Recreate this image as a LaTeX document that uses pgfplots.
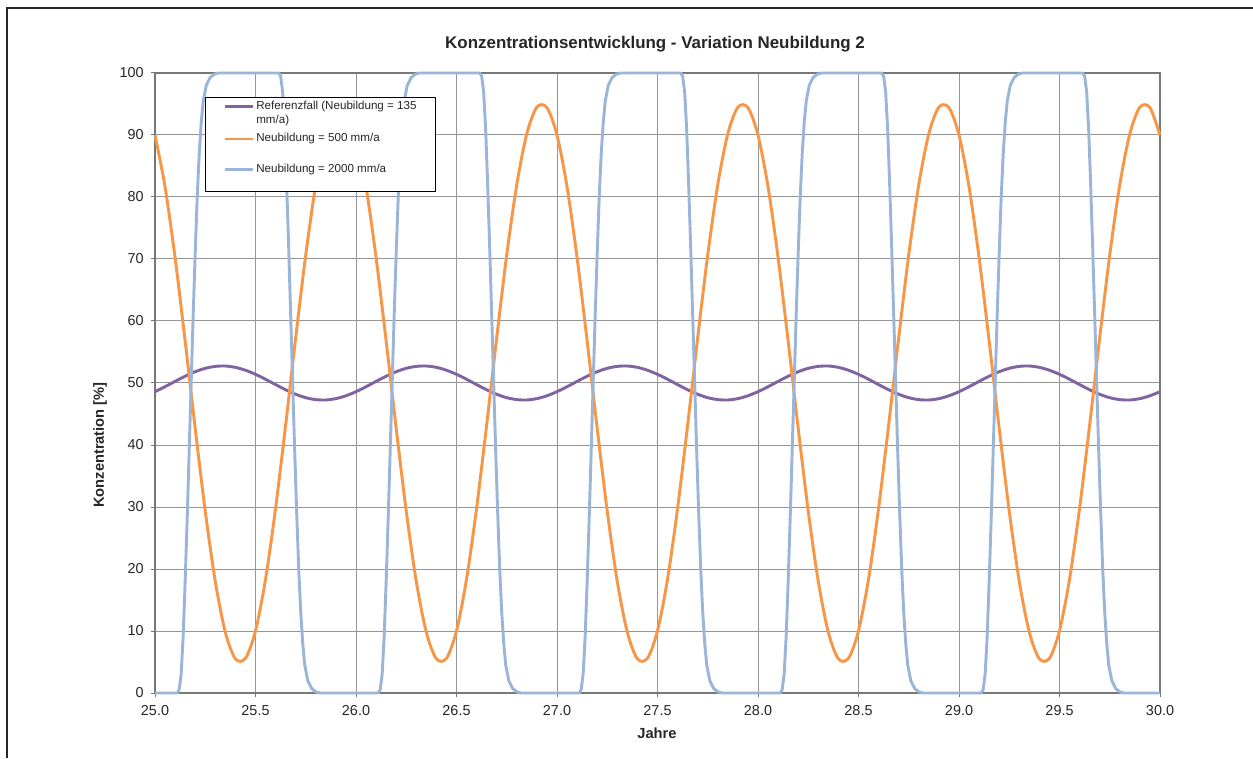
\documentclass[border=0pt]{standalone}
\usepackage{fontspec}
\setmainfont{Liberation Sans}
\usepackage{pgfplots}
\pgfplotsset{compat=1.18}
\definecolor{cPurple}{RGB}{128,100,162}
\definecolor{cOrange}{RGB}{247,150,70}
\definecolor{cBlue}{RGB}{155,181,216}
\definecolor{cGrid}{RGB}{150,150,150}
\definecolor{cAxis}{RGB}{120,120,120}
\begin{document}
\begin{tikzpicture}
\useasboundingbox (0,0) rectangle (939.75pt,568.5pt);
\begin{axis}[
  at={(116.25pt,48.75pt)}, anchor=south west,
  scale only axis, width=753.75pt, height=465pt,
  xmin=25, xmax=30, ymin=0, ymax=100,
  xtick={25,25.5,26,26.5,27,27.5,28,28.5,29,29.5,30},
  ytick={0,10,20,30,40,50,60,70,80,90,100},
  grid=major, major grid style={cGrid, line width=0.75pt},
  axis line style={cAxis, line width=1pt},
  tick style={cAxis, line width=0.75pt},
  tick align=outside, major tick length=3pt,
  xtick pos=bottom, ytick pos=left,
  /pgf/number format/assume math mode=true,
  tick label style={font=\fontsize{10.8}{12}\selectfont, text=black!85},
  xticklabel style={yshift=-3pt, /pgf/number format/.cd, fixed, fixed zerofill, precision=1},
  yticklabel style={xshift=-2pt, /pgf/number format/.cd, fixed, precision=0},
  clip=false,
]
\addplot[cPurple, line width=2.2pt, smooth] coordinates {
(25.00,48.60)(25.05,49.40)(25.10,50.26)(25.15,51.09)(25.20,51.82)(25.25,52.37)(25.30,52.68)(25.35,52.74)(25.40,52.52)(25.45,52.06)
(25.50,51.40)(25.55,50.60)(25.60,49.74)(25.65,48.91)(25.70,48.18)(25.75,47.63)(25.80,47.32)(25.85,47.26)(25.90,47.48)(25.95,47.94)
(26.00,48.60)(26.05,49.40)(26.10,50.26)(26.15,51.09)(26.20,51.82)(26.25,52.37)(26.30,52.68)(26.35,52.74)(26.40,52.52)(26.45,52.06)
(26.50,51.40)(26.55,50.60)(26.60,49.74)(26.65,48.91)(26.70,48.18)(26.75,47.63)(26.80,47.32)(26.85,47.26)(26.90,47.48)(26.95,47.94)
(27.00,48.60)(27.05,49.40)(27.10,50.26)(27.15,51.09)(27.20,51.82)(27.25,52.37)(27.30,52.68)(27.35,52.74)(27.40,52.52)(27.45,52.06)
(27.50,51.40)(27.55,50.60)(27.60,49.74)(27.65,48.91)(27.70,48.18)(27.75,47.63)(27.80,47.32)(27.85,47.26)(27.90,47.48)(27.95,47.94)
(28.00,48.60)(28.05,49.40)(28.10,50.26)(28.15,51.09)(28.20,51.82)(28.25,52.37)(28.30,52.68)(28.35,52.74)(28.40,52.52)(28.45,52.06)
(28.50,51.40)(28.55,50.60)(28.60,49.74)(28.65,48.91)(28.70,48.18)(28.75,47.63)(28.80,47.32)(28.85,47.26)(28.90,47.48)(28.95,47.94)
(29.00,48.60)(29.05,49.40)(29.10,50.26)(29.15,51.09)(29.20,51.82)(29.25,52.37)(29.30,52.68)(29.35,52.74)(29.40,52.52)(29.45,52.06)
(29.50,51.40)(29.55,50.60)(29.60,49.74)(29.65,48.91)(29.70,48.18)(29.75,47.63)(29.80,47.32)(29.85,47.26)(29.90,47.48)(29.95,47.94)
(30.00,48.60)};
\addplot[cOrange, line width=2.2pt, smooth] coordinates {
(25.00,89.97)(25.05,81.63)(25.10,70.19)(25.15,56.76)(25.20,42.68)(25.25,29.32)(25.30,17.98)(25.35,9.78)(25.40,5.51)(25.45,5.60)
(25.50,10.03)(25.55,18.38)(25.60,29.82)(25.65,43.24)(25.70,57.32)(25.75,70.68)(25.80,82.02)(25.85,90.22)(25.90,94.49)(25.95,94.40)
(26.00,89.97)(26.05,81.63)(26.10,70.19)(26.15,56.76)(26.20,42.68)(26.25,29.32)(26.30,17.98)(26.35,9.78)(26.40,5.51)(26.45,5.60)
(26.50,10.03)(26.55,18.38)(26.60,29.82)(26.65,43.24)(26.70,57.32)(26.75,70.68)(26.80,82.02)(26.85,90.22)(26.90,94.49)(26.95,94.40)
(27.00,89.97)(27.05,81.63)(27.10,70.19)(27.15,56.76)(27.20,42.68)(27.25,29.32)(27.30,17.98)(27.35,9.78)(27.40,5.51)(27.45,5.60)
(27.50,10.03)(27.55,18.38)(27.60,29.82)(27.65,43.24)(27.70,57.32)(27.75,70.68)(27.80,82.02)(27.85,90.22)(27.90,94.49)(27.95,94.40)
(28.00,89.97)(28.05,81.63)(28.10,70.19)(28.15,56.76)(28.20,42.68)(28.25,29.32)(28.30,17.98)(28.35,9.78)(28.40,5.51)(28.45,5.60)
(28.50,10.03)(28.55,18.38)(28.60,29.82)(28.65,43.24)(28.70,57.32)(28.75,70.68)(28.80,82.02)(28.85,90.22)(28.90,94.49)(28.95,94.40)
(29.00,89.97)(29.05,81.63)(29.10,70.19)(29.15,56.76)(29.20,42.68)(29.25,29.32)(29.30,17.98)(29.35,9.78)(29.40,5.51)(29.45,5.60)
(29.50,10.03)(29.55,18.38)(29.60,29.82)(29.65,43.24)(29.70,57.32)(29.75,70.68)(29.80,82.02)(29.85,90.22)(29.90,94.49)(29.95,94.40)
(30.00,89.97)};
\addplot[cBlue, line width=2.2pt, line join=round] coordinates {
(25.000,0)(25.110,0)(25.120,0.5)(25.130,3)(25.140,9)(25.150,18)(25.160,28)(25.170,39)(25.180,50)(25.190,61)(25.200,71)(25.210,80)(25.220,87)(25.230,92)(25.240,95.5)(25.255,98)(25.275,99.3)(25.295,99.8)(25.315,100)
(25.615,100)(25.625,99.5)(25.635,97)(25.645,91)(25.655,82)(25.665,72)(25.675,61)(25.685,50)(25.695,39)(25.705,29)(25.715,20)(25.725,13)(25.735,8)(25.745,4.5)(25.760,2)(25.780,0.7)(25.800,0.2)(25.820,0)
(26.000,0)(26.110,0)(26.120,0.5)(26.130,3)(26.140,9)(26.150,18)(26.160,28)(26.170,39)(26.180,50)(26.190,61)(26.200,71)(26.210,80)(26.220,87)(26.230,92)(26.240,95.5)(26.255,98)(26.275,99.3)(26.295,99.8)(26.315,100)
(26.615,100)(26.625,99.5)(26.635,97)(26.645,91)(26.655,82)(26.665,72)(26.675,61)(26.685,50)(26.695,39)(26.705,29)(26.715,20)(26.725,13)(26.735,8)(26.745,4.5)(26.760,2)(26.780,0.7)(26.800,0.2)(26.820,0)
(27.000,0)(27.110,0)(27.120,0.5)(27.130,3)(27.140,9)(27.150,18)(27.160,28)(27.170,39)(27.180,50)(27.190,61)(27.200,71)(27.210,80)(27.220,87)(27.230,92)(27.240,95.5)(27.255,98)(27.275,99.3)(27.295,99.8)(27.315,100)
(27.615,100)(27.625,99.5)(27.635,97)(27.645,91)(27.655,82)(27.665,72)(27.675,61)(27.685,50)(27.695,39)(27.705,29)(27.715,20)(27.725,13)(27.735,8)(27.745,4.5)(27.760,2)(27.780,0.7)(27.800,0.2)(27.820,0)
(28.000,0)(28.110,0)(28.120,0.5)(28.130,3)(28.140,9)(28.150,18)(28.160,28)(28.170,39)(28.180,50)(28.190,61)(28.200,71)(28.210,80)(28.220,87)(28.230,92)(28.240,95.5)(28.255,98)(28.275,99.3)(28.295,99.8)(28.315,100)
(28.615,100)(28.625,99.5)(28.635,97)(28.645,91)(28.655,82)(28.665,72)(28.675,61)(28.685,50)(28.695,39)(28.705,29)(28.715,20)(28.725,13)(28.735,8)(28.745,4.5)(28.760,2)(28.780,0.7)(28.800,0.2)(28.820,0)
(29.000,0)(29.110,0)(29.120,0.5)(29.130,3)(29.140,9)(29.150,18)(29.160,28)(29.170,39)(29.180,50)(29.190,61)(29.200,71)(29.210,80)(29.220,87)(29.230,92)(29.240,95.5)(29.255,98)(29.275,99.3)(29.295,99.8)(29.315,100)
(29.615,100)(29.625,99.5)(29.635,97)(29.645,91)(29.655,82)(29.665,72)(29.675,61)(29.685,50)(29.695,39)(29.705,29)(29.715,20)(29.725,13)(29.735,8)(29.745,4.5)(29.760,2)(29.780,0.7)(29.800,0.2)(29.820,0)
(30.000,0)};
\end{axis}
\begin{scope}[x=0.75pt,y=0.75pt]
\draw[line width=1.2pt, black!85] (7,0) -- (7,750) -- (1253,750);
\node[font=\bfseries\fontsize{12.7}{15}\selectfont, text=black!85] at (655,714) {Konzentrationsentwicklung - Variation Neubildung 2};
\node[font=\bfseries\fontsize{11}{13}\selectfont, text=black!85] at (657,25) {Jahre};
\node[rotate=90, font=\bfseries\fontsize{11}{13}\selectfont, text=black!85] at (100,313) {Konzentration [\%]};
\draw[black, line width=0.75pt, fill=white] (205.5,660.3) rectangle (435.5,566.3);
\draw[cPurple, line width=2.2pt] (225,651.3) -- (253,651.3);
\draw[cOrange, line width=2.2pt] (225,619) -- (253,619);
\draw[cBlue, line width=2.2pt] (225,588.7) -- (253,588.7);
\begin{scope}[every node/.style={anchor=west, inner sep=1.5pt, text=black!85, font=\fontsize{8.7}{10}\selectfont}]
\node at (254,651.3) {Referenzfall (Neubildung = 135};
\node at (254,637.3) {mm/a)};
\node at (254,619) {Neubildung = 500 mm/a};
\node at (254,588.7) {Neubildung = 2000 mm/a};
\end{scope}
\end{scope}
\end{tikzpicture}
\end{document}
